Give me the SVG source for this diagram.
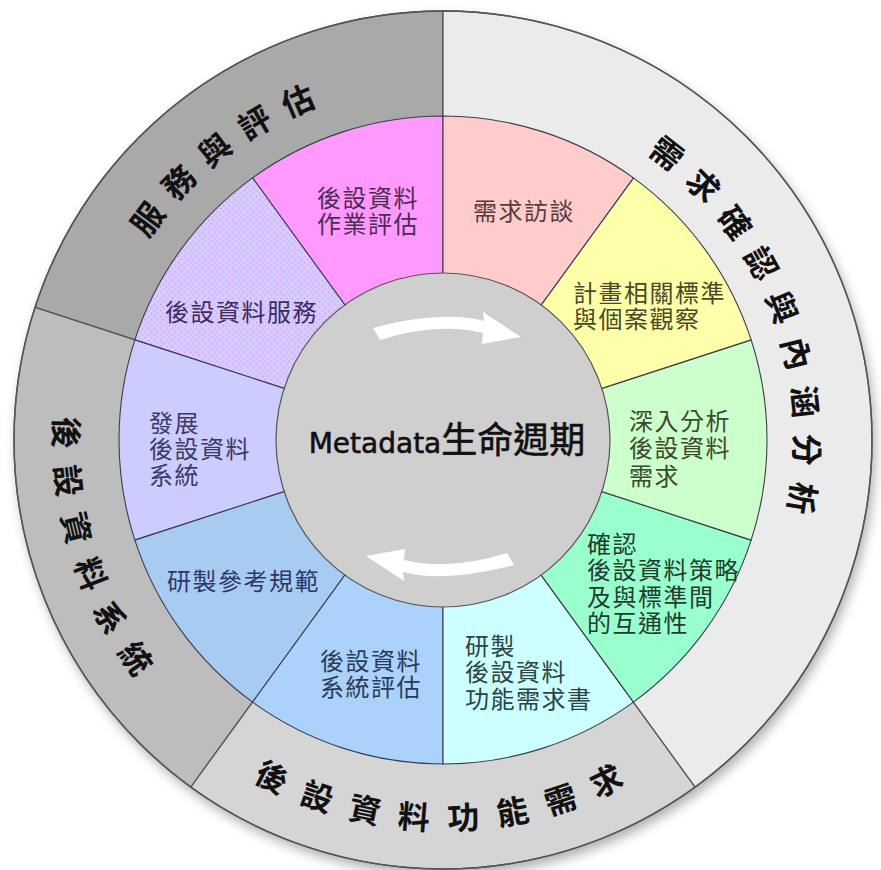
<svg xmlns="http://www.w3.org/2000/svg" width="881" height="870" viewBox="0 0 881 870">
<defs>
<style>
.wedge{stroke:#555;stroke-width:1.3;stroke-linejoin:round}
.seg{stroke:#3c3c50;stroke-width:1.1;stroke-linejoin:round}
.ot{font-family:"Noto Sans CJK TC","Noto Sans CJK SC",sans-serif;font-size:32px;font-weight:bold;fill:#111;text-anchor:middle;dominant-baseline:central}
.it{font-family:"Noto Sans CJK TC","Noto Sans CJK SC",sans-serif;font-size:24px;letter-spacing:1.5px}
.arrow{fill:#ffffff}
</style>
<pattern id="dots" width="6" height="6" patternUnits="userSpaceOnUse">
<rect width="6" height="6" fill="#d6cdff"/>
<circle cx="1.5" cy="1.5" r="0.9" fill="#e59bf6"/>
<circle cx="4.5" cy="4.5" r="0.9" fill="#e59bf6"/>
</pattern>
<filter id="blur" x="-10%" y="-10%" width="120%" height="120%">
<feGaussianBlur stdDeviation="6"/>
</filter>
</defs>
<rect width="881" height="870" fill="#ffffff"/>
<circle id="shadow" cx="446" cy="446" r="429" fill="#6a6a6a" opacity="0.55" filter="url(#blur)"/>

<g id="outer-ring">
<g id="o-service">
<path class="wedge" d="M443,440 L443,11 A429,429 0 0 0 35.00,307.43 Z" fill="#a9a9a9"/>
<text class="ot" transform="translate(145.93,217.76) rotate(-53.2)">服</text>
<text class="ot" transform="translate(177.48,180.89) rotate(-45.7)">務</text>
<text class="ot" transform="translate(213.57,148.45) rotate(-38.2)">與</text>
<text class="ot" transform="translate(253.59,121.00) rotate(-30.7)">評</text>
<text class="ot" transform="translate(296.85,99.00) rotate(-23.2)">估</text>
</g>
<g id="o-system">
<path class="wedge" d="M443,440 L35.00,307.43 A429,429 0 0 0 190.84,787.07 Z" fill="#bdbdbd"/>
<text class="ot" transform="translate(68.07,432.80) rotate(91.1)">後</text>
<text class="ot" transform="translate(70.19,480.50) rotate(83.8)">設</text>
<text class="ot" transform="translate(78.36,527.54) rotate(76.5)">資</text>
<text class="ot" transform="translate(92.44,573.17) rotate(69.2)">料</text>
<text class="ot" transform="translate(112.20,616.63) rotate(61.9)">系</text>
<text class="ot" transform="translate(137.33,657.23) rotate(54.6)">統</text>
</g>
<g id="o-function">
<path class="wedge" d="M443,440 L190.84,787.07 A429,429 0 0 0 695.16,787.07 Z" fill="#d5d5d5"/>
<text class="ot" transform="translate(272.89,775.32) rotate(26.9)">後</text>
<text class="ot" transform="translate(318.11,794.65) rotate(19.4)">設</text>
<text class="ot" transform="translate(365.47,807.92) rotate(11.9)">資</text>
<text class="ot" transform="translate(414.15,814.89) rotate(4.4)">料</text>
<text class="ot" transform="translate(463.33,815.45) rotate(-3.1)">功</text>
<text class="ot" transform="translate(512.17,809.59) rotate(-10.6)">能</text>
<text class="ot" transform="translate(559.82,797.40) rotate(-18.1)">需</text>
<text class="ot" transform="translate(605.47,779.09) rotate(-25.6)">求</text>
</g>
<g id="o-requirement">
<path class="wedge" d="M443,440 L695.16,787.07 A429,429 0 0 0 443,11 Z" fill="#ebebeb"/>
<text class="ot" transform="translate(668.33,151.59) rotate(38)">需</text>
<text class="ot" transform="translate(704.80,184.23) rotate(45.65)">求</text>
<text class="ot" transform="translate(736.45,221.27) rotate(53.3)">確</text>
<text class="ot" transform="translate(762.96,262.29) rotate(60.95)">認</text>
<text class="ot" transform="translate(783.77,306.45) rotate(68.6)">與</text>
<text class="ot" transform="translate(798.51,353.01) rotate(76.25)">內</text>
<text class="ot" transform="translate(806.93,401.11) rotate(83.9)">涵</text>
<text class="ot" transform="translate(808.87,449.90) rotate(91.55)">分</text>
<text class="ot" transform="translate(804.29,498.52) rotate(99.2)">析</text>
</g>
</g>

<g id="segments">
<g id="s1">
<path class="seg" d="M443,440 L443,116 A324,324 0 0 0 252.56,177.88 Z" fill="#ff99ff"/>
<text class="it" fill="#4a2c55"><tspan x="317" y="207">後設資料</tspan><tspan x="317" y="233">作業評估</tspan></text>
</g>
<g id="s2">
<path class="seg" d="M443,440 L252.56,177.88 A324,324 0 0 0 134.86,339.88 Z" fill="url(#dots)"/>
<text class="it" fill="#3a2c62" x="165" y="321">後設資料服務</text>
</g>
<g id="s3">
<path class="seg" d="M443,440 L134.86,339.88 A324,324 0 0 0 134.86,540.12 Z" fill="#ccccff"/>
<text class="it" fill="#3a3a66"><tspan x="149" y="432">發展</tspan><tspan x="149" y="458">後設資料</tspan><tspan x="149" y="484">系統</tspan></text>
</g>
<g id="s4">
<path class="seg" d="M443,440 L134.86,540.12 A324,324 0 0 0 252.56,702.12 Z" fill="#a8cbf2"/>
<text class="it" fill="#2c3766" x="167" y="590">研製參考規範</text>
</g>
<g id="s5">
<path class="seg" d="M443,440 L252.56,702.12 A324,324 0 0 0 443,764 Z" fill="#aad2fa" stroke="#3a5a9a"/>
<text class="it" fill="#2c3a5a"><tspan x="320" y="670">後設資料</tspan><tspan x="320" y="696">系統評估</tspan></text>
</g>
<g id="s6">
<path class="seg" d="M443,440 L443,764 A324,324 0 0 0 633.44,702.12 Z" fill="#ccffff"/>
<text class="it" fill="#2c4444"><tspan x="465" y="655">研製</tspan><tspan x="465" y="681">後設資料</tspan><tspan x="465" y="708">功能需求書</tspan></text>
</g>
<g id="s7">
<path class="seg" d="M443,440 L633.44,702.12 A324,324 0 0 0 751.14,540.12 Z" fill="#99ffcc"/>
<text class="it" fill="#1f3d30"><tspan x="587" y="553">確認</tspan><tspan x="587" y="579">後設資料策略</tspan><tspan x="587" y="606">及與標準間</tspan><tspan x="587" y="632">的互通性</tspan></text>
</g>
<g id="s8">
<path class="seg" d="M443,440 L751.14,540.12 A324,324 0 0 0 751.14,339.88 Z" fill="#ccffcc"/>
<text class="it" fill="#3a4a2c"><tspan x="629" y="430">深入分析</tspan><tspan x="629" y="457">後設資料</tspan><tspan x="629" y="485">需求</tspan></text>
</g>
<g id="s9">
<path class="seg" d="M443,440 L751.14,339.88 A324,324 0 0 0 633.44,177.88 Z" fill="#ffffaa"/>
<text class="it" fill="#4a4a2a"><tspan x="573" y="302">計畫相關標準</tspan><tspan x="573" y="328">與個案觀察</tspan></text>
</g>
<g id="s10">
<path class="seg" d="M443,440 L633.44,177.88 A324,324 0 0 0 443,116 Z" fill="#ffcccc"/>
<text class="it" fill="#5a3a3a" x="473" y="220">需求訪談</text>
</g>
</g>

<g id="center">
<circle cx="443" cy="440" r="167" fill="#cfcfcf" stroke="#555" stroke-width="1.2"/>
<text x="447" y="453" text-anchor="middle" fill="#111" stroke="#111" stroke-width="0.6"><tspan font-family="DejaVu Sans, sans-serif" font-size="28">Metadata</tspan><tspan font-family="Noto Sans CJK TC, Noto Sans CJK SC, sans-serif" font-size="36">生命週期</tspan></text>
</g>

<circle cx="443" cy="440" r="429" fill="none" stroke="#555" stroke-width="1.5"/>

<g id="connectors">
<path class="arrow" d="M373,328 Q442,310 484,321 L483,312 L521,337 L482,344 L483,333 Q437,322 380,340 Z"/>
<path class="arrow" d="M373,328 Q442,310 484,321 L483,312 L521,337 L482,344 L483,333 Q437,322 380,340 Z" transform="rotate(180 443.5 446.5)"/>
</g>
</svg>
